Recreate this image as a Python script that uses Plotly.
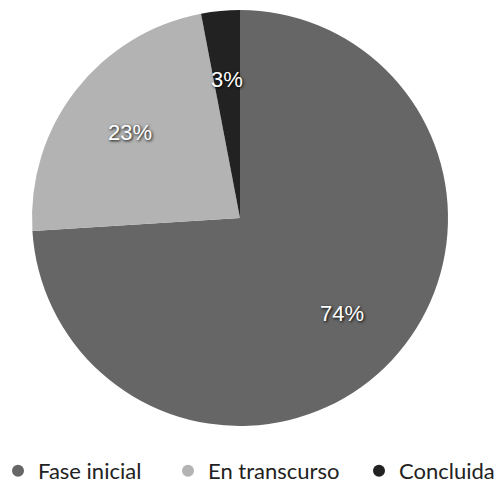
import math
import plotly.graph_objects as go

# Estado de los proyectos
categorias = ["Fase inicial", "En transcurso", "Concluida"]
porcentajes = [74, 23, 3]
colores = ["#666666", "#b3b3b3", "#222222"]

W, H = 498, 484
CX, CY, R = 240, 218, 208          # centro y radio del pastel (px)
LABEL_R = 0.67                     # distancia relativa de las etiquetas
LEGEND_X = [18, 188, 379]          # centro de cada marcador de leyenda (px)
LEGEND_Y = 471

fig = go.Figure()

fig.add_trace(go.Pie(
    labels=categorias,
    values=porcentajes,
    marker=dict(colors=colores, line=dict(width=0)),
    sort=False,
    direction="clockwise",
    rotation=0,
    textinfo="none",
    showlegend=False,
    hoverinfo="label+percent",
    domain=dict(x=[(CX - R) / W, (CX + R) / W],
                y=[(H - CY - R) / H, (H - CY + R) / H]),
))

# Etiquetas de porcentaje sobre la bisectriz de cada sector
total = sum(porcentajes)
acum = 0
for v in porcentajes:
    ang = 2 * math.pi * (acum + v / 2) / total
    acum += v
    px = CX + LABEL_R * R * math.sin(ang)
    py = CY - LABEL_R * R * math.cos(ang)
    fig.add_annotation(
        x=px / W, y=1 - py / H, xref="paper", yref="paper",
        xanchor="center", yanchor="middle",
        text=f"{v}%", showarrow=False,
        font=dict(family="Liberation Sans, Arial", size=22, color="white",
                  shadow="1px 1px 3px #000"),
    )

# Leyenda con marcadores circulares, una caja por categoría
for i, (nombre, color) in enumerate(zip(categorias, colores)):
    leg = "legend" if i == 0 else f"legend{i + 1}"
    fig.add_trace(go.Scatter(
        x=[None], y=[None], mode="markers", name=nombre,
        marker=dict(symbol="circle", size=15, color=color),
        showlegend=True, legend=leg,
    ))
    fig.update_layout({leg: dict(
        orientation="h", x=(LEGEND_X[i] - 20) / W, xanchor="left",
        y=1 - LEGEND_Y / H, yanchor="middle",
        font=dict(family="Lato", size=22, color="#222"),
        bgcolor="rgba(0,0,0,0)", itemsizing="constant",
    )})

fig.update_layout(
    width=W, height=H,
    margin=dict(l=0, r=0, t=0, b=0, autoexpand=False),
    paper_bgcolor="white", plot_bgcolor="white",
    xaxis=dict(visible=False), yaxis=dict(visible=False),
)

fig.write_html("out.html")
